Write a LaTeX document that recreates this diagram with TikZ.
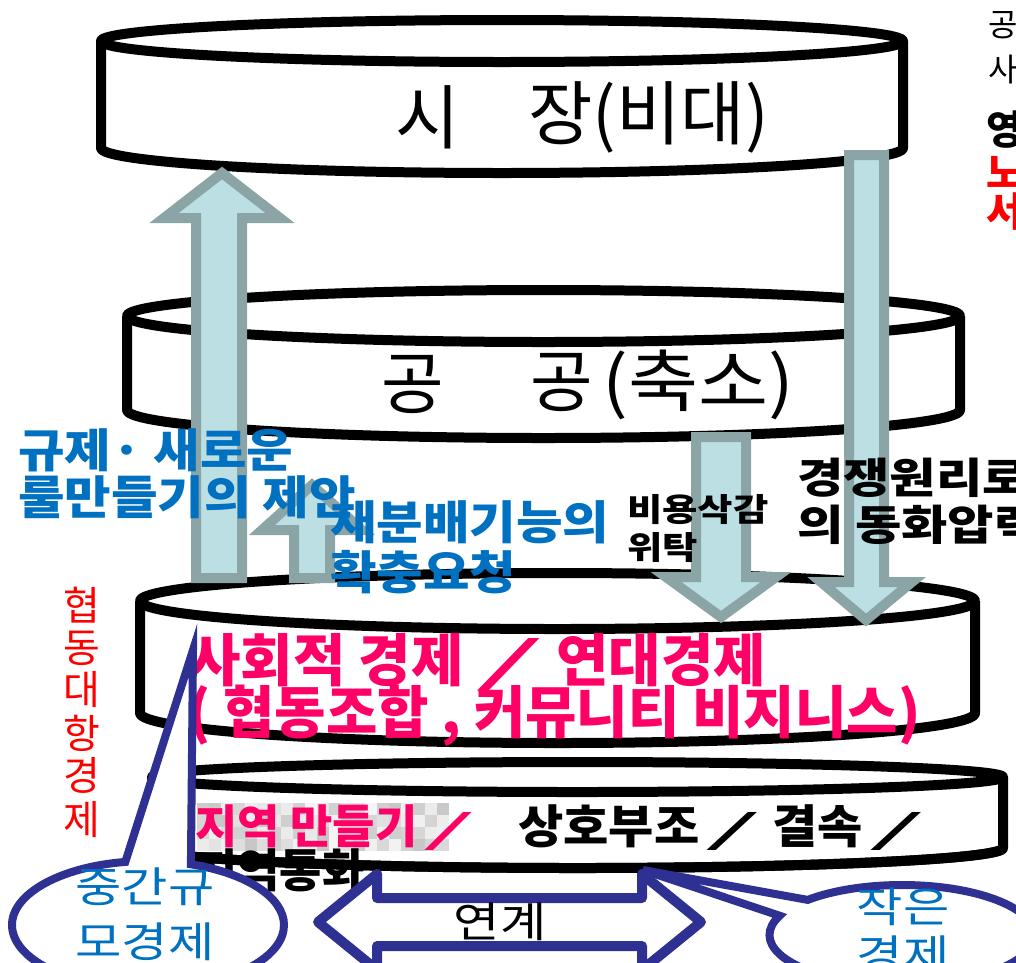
\documentclass[tikz,border=0pt]{standalone}
\usepackage{graphicx}
\usepackage{fontspec}
\newfontfamily\kr{Noto Sans CJK KR}
\usetikzlibrary{shapes.callouts}
\definecolor{navy}{RGB}{46,49,146}
\definecolor{arrowfill}{RGB}{187,223,227}
\definecolor{arrowedge}{RGB}{139,165,167}
\definecolor{bluetxt}{RGB}{0,112,192}
\definecolor{pinktxt}{RGB}{255,0,102}
\definecolor{redtxt}{RGB}{255,0,0}
\newcommand{\fsz}[1]{\fontsize{#1}{#1}\selectfont}
\newcommand{\widen}[2]{\scalebox{#1}[1]{#2}}
\newcommand{\slsh}{\scalebox{2.8}[0.85]{\mdseries /}}
\newcommand{\cylinder}[6]{%
  \path[fill=white] (#1-#2,#3) -- (#1-#2,#5) arc[start angle=180,end angle=0,x radius=#2,y radius=#6] -- (#1+#2,#3) arc[start angle=0,end angle=-180,x radius=#2,y radius=#4] -- cycle;
  \draw[cyl] (#1,#3) ellipse[x radius=#2, y radius=#4];
  \draw[cyl] (#1-#2,#3) -- (#1-#2,#5) arc[start angle=180,end angle=0,x radius=#2,y radius=#6] -- (#1+#2,#3);
}
\begin{document}
\begin{tikzpicture}[x=1pt,y=-1pt,font=\kr,
  cyl/.style={black,line width=10pt,line join=round},
  bigarrow/.style={fill=arrowfill,draw=arrowedge,line width=10pt,line join=miter},
  lbl/.style={inner sep=0pt,anchor=west},
  callout/.style={ellipse callout,draw=navy,line width=8pt,fill=white},
]
\useasboundingbox (0,0) rectangle (1016,962);
\clip (0,0) rectangle (1016,962);

% cylinders
\cylinder{502}{401}{41}{21}{148}{25}
\cylinder{543.5}{416.5}{316}{26}{410}{28}
\cylinder{557.5}{417.5}{601}{28}{713}{30}
\cylinder{577.5}{425.5}{777}{15}{848}{20}

% cylinder titles
\node[inner sep=0pt] (si) at (428,117) {\fsz{70}시};
\node[lbl] (jang) at (528,117) {\fsz{70}장(비대)};
\node[inner sep=0pt] (gong1) at (413,385) {\fsz{68}공};
\node[lbl] (gong2) at (530,385) {\fsz{68}공\hspace{10pt}\widen{1.12}{(축소)}};

% arrows
\draw[bigarrow] (196,578) -- (196,218) -- (164,218) -- (222,173) -- (280,218) -- (242,218) -- (242,578) -- cycle;
\draw[bigarrow] (294,578) -- (294,530) -- (262,530) -- (312,485) -- (362,530) -- (330,530) -- (330,578) -- cycle;
\draw[bigarrow] (849,155) -- (849,582) -- (821,582) -- (866,620) -- (912,582) -- (884,582) -- (884,155) -- cycle;
\draw[bigarrow] (696,437) -- (696,577) -- (666,577) -- (721,617) -- (776,577) -- (746,577) -- (746,437) -- cycle;

% top right cut text
\node[lbl] (tr1) at (988,25) {\fsz{32}공};
\node[lbl] (tr2) at (988,70) {\fsz{32}사};
\node[lbl] (tr3) at (986,130) {\fsz{40}\bfseries 영};
\node[lbl,text=redtxt] (tr4) at (986,172) {\fsz{40}\bfseries 노};
\node[lbl,text=redtxt] (tr5) at (986,212) {\fsz{40}\bfseries 서};

% blue labels
\node[lbl,text=bluetxt] (b1) at (18,450) {\widen{1.1}{\fsz{46}\bfseries 규제· 새로운}};
\node[lbl,text=bluetxt] (b2) at (18,497) {\widen{1.1}{\fsz{46}\bfseries 룰만들기의 제안}};
\node[lbl,text=bluetxt] (b3) at (330,522) {\widen{1.1}{\fsz{46}\bfseries 재분배기능의}};
\node[lbl,text=bluetxt] (b4) at (330,572) {\widen{1.1}{\fsz{46}\bfseries 확충요청}};

% black labels
\node[lbl] (k1) at (627,510) {\widen{1.2}{\fsz{32}\bfseries 비용삭감}};
\node[lbl] (k2) at (627,548) {\widen{1.2}{\fsz{32}\bfseries 위탁}};
\node[lbl] (k3) at (797,478) {\widen{1.2}{\fsz{42}\bfseries 경쟁원리로}};
\node[lbl] (k4) at (797,525) {\widen{1.2}{\fsz{42}\bfseries 의 동화압력}};

% red vertical
\foreach \c/\yy [count=\n] in {협/605,동/648,대/690,항/733,경/775,제/820}
  \node[inner sep=0pt,text=redtxt] (v\n) at (82,\yy) {\fsz{40}\c};

% social economy text
\node[lbl,text=pinktxt] (s1) at (188,662) {\fsz{57}\bfseries 사회적 경제\hspace{12pt}\scalebox{3}[0.95]{\mdseries /}\hspace{14pt}연대경제};
\node[lbl,text=pinktxt] (s2) at (188,716) {\widen{0.98}{\fsz{57}\bfseries ( 협동조합 , 커뮤니티 비지니스)}};

% mosaic
\pgfmathsetseed{7}
\foreach \i in {0,...,20}{\foreach \j in {0,...,3}{%
  \pgfmathrandominteger{\g}{4}{22}%
  \fill[black!\g] (197+\i*12,803+\j*12) rectangle ++(12,12);}}

% bottom cylinder text
\node[lbl,text=pinktxt] (r1) at (195,828) {\fsz{46}\bfseries 지역 만들기\hspace{6pt}\slsh};
\node[lbl] (r2) at (518,828) {\widen{1.07}{\fsz{46}\bfseries 상호부조\hspace{6pt}\slsh\hspace{12pt}결속\hspace{6pt}\slsh}};
\node[lbl] (r3) at (195,870) {\fsz{46}\bfseries 지역통화};
\draw[cyl] (152,848) arc[start angle=180,end angle=0,x radius=425.5,y radius=20];

% callouts
\node[callout,minimum width=272pt,minimum height=128pt,callout absolute pointer={(193,650)},callout pointer arc=28] (lc) at (148,925) {};
\node[callout,minimum width=265pt,minimum height=100pt,callout absolute pointer={(643,870)},callout pointer arc=22] (rc) at (902,935) {};
\node[inner sep=0pt,text=bluetxt] (lc1) at (145,887) {\widen{1.2}{\fsz{42}중간규}};
\node[inner sep=0pt,text=bluetxt] (lc2) at (145,942) {\widen{1.2}{\fsz{42}모경제}};
\node[inner sep=0pt,text=bluetxt] (rc1) at (903,907) {\widen{1.2}{\fsz{42}작은}};
\node[inner sep=0pt,text=bluetxt] (rc2) at (903,955) {\widen{1.2}{\fsz{42}경제}};

% double arrow
\draw[navy,line width=10pt,fill=white,line join=round] (318,922) -- (377,874) -- (377,898) -- (642,898) -- (642,874) -- (701,922) -- (642,970) -- (642,946) -- (377,946) -- (377,970) -- cycle;
\node[inner sep=0pt] (link) at (500,922) {\widen{1.2}{\fsz{42}연계}};
\end{tikzpicture}
\end{document}
